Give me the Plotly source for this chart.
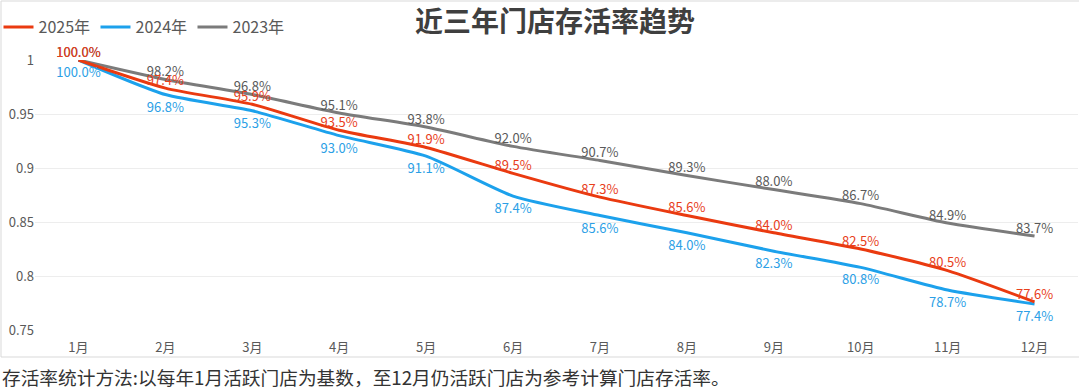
import plotly.graph_objects as go

months = ["1月", "2月", "3月", "4月", "5月", "6月", "7月", "8月", "9月", "10月", "11月", "12月"]
rate_2025 = [1.000, 0.974, 0.959, 0.935, 0.919, 0.895, 0.873, 0.856, 0.840, 0.825, 0.805, 0.776]
rate_2024 = [1.000, 0.968, 0.953, 0.930, 0.911, 0.874, 0.856, 0.840, 0.823, 0.808, 0.787, 0.774]
rate_2023 = [1.000, 0.982, 0.968, 0.951, 0.938, 0.920, 0.907, 0.893, 0.880, 0.867, 0.849, 0.837]
y_ticks = [0.75, 0.8, 0.85, 0.9, 0.95, 1.0]
y_tick_text = ["0.75", "0.8", "0.85", "0.9", "0.95", "1"]

FONT = "Microsoft YaHei, Noto Sans CJK SC, sans-serif"
RED = "#EA3A10"
BLUE = "#1CA1EC"
GRAY = "#7B7B7B"

fig = go.Figure()
series = [
    ("2023年", rate_2023, GRAY, "#5A5A5A", "top center", 0),
    ("2024年", rate_2024, BLUE, "#2C9FE6", "bottom center", 10),
    ("2025年", rate_2025, RED, "#E8401C", "top center", 0),
]
# lines (legend entries)
for name, vals, col, tcol, pos, msize in series:
    fig.add_trace(go.Scatter(
        x=months, y=vals, name=name, mode="lines",
        line=dict(color=col, width=3, shape="spline", smoothing=0.6),
    ))
# data labels
for name, vals, col, tcol, pos, msize in series:
    fig.add_trace(go.Scatter(
        x=months, y=vals, name=name, showlegend=False,
        mode="markers+text" if msize else "text",
        marker=dict(size=msize, opacity=0, color=col),
        texttemplate="%{y:.1%}", textposition=pos,
        textfont=dict(family=FONT, size=13, color=tcol),
        cliponaxis=False, hoverinfo="skip",
    ))

fig.update_layout(
    width=1080, height=389,
    margin=dict(l=35, r=2, t=60, b=59, autoexpand=False),
    paper_bgcolor="white", plot_bgcolor="white",
    font=dict(family=FONT, color="#595959"),
    title=dict(text="<b>近三年门店存活率趋势</b>", x=555/1080, xref="container", xanchor="center",
               y=1-22/389, yref="container", yanchor="middle",
               font=dict(family=FONT, size=28, color="#3F3F3F")),
    legend=dict(orientation="h", x=-0.035, xanchor="left", y=1-27/389, yref="container", yanchor="middle",
                traceorder="reversed", font=dict(family=FONT, size=16, color="#595959"),
                itemwidth=30, entrywidth=52, entrywidthmode="pixels", bgcolor="rgba(0,0,0,0)"),
    showlegend=True,
)
fig.update_xaxes(type="category", range=[-0.5, 11.5], showgrid=False, showline=False, zeroline=False,
                 ticks="", ticklabelstandoff=8, tickfont=dict(family=FONT, size=13, color="#595959"))
fig.update_yaxes(range=[0.75, 1.0], tickvals=y_ticks, ticktext=y_tick_text, showgrid=True,
                 gridcolor="#EDEDED", gridwidth=1, zeroline=False, showline=False, ticks="",
                 tickfont=dict(family=FONT, size=13, color="#595959"))

# frame around the chart image
pw, ph = 1043, 270
def px(x):
    return (x - 35) / pw
def py(y):
    return (330 - y) / ph
for x0, y0, x1, y1 in [(1, 1, 1, 357), (1, 1, 1079, 1), (1, 357, 1079, 357)]:
    fig.add_shape(type="line", xref="paper", yref="paper", x0=px(x0), y0=py(y0), x1=px(x1), y1=py(y1),
                  line=dict(color="#D9D9D9", width=1), layer="below")

fig.add_annotation(text="存活率统计方法:以每年1月活跃门店为基数，至12月仍活跃门店为参考计算门店存活率。",
                   xref="paper", yref="paper", x=px(0), y=py(376), xanchor="left", yanchor="middle",
                   showarrow=False, font=dict(family=FONT, size=18.7, color="#333333"))

fig.write_html("out.html", config={"displayModeBar": False},
               post_script="document.body.style.margin='0';document.body.style.padding='0';document.body.style.overflow='hidden';")
